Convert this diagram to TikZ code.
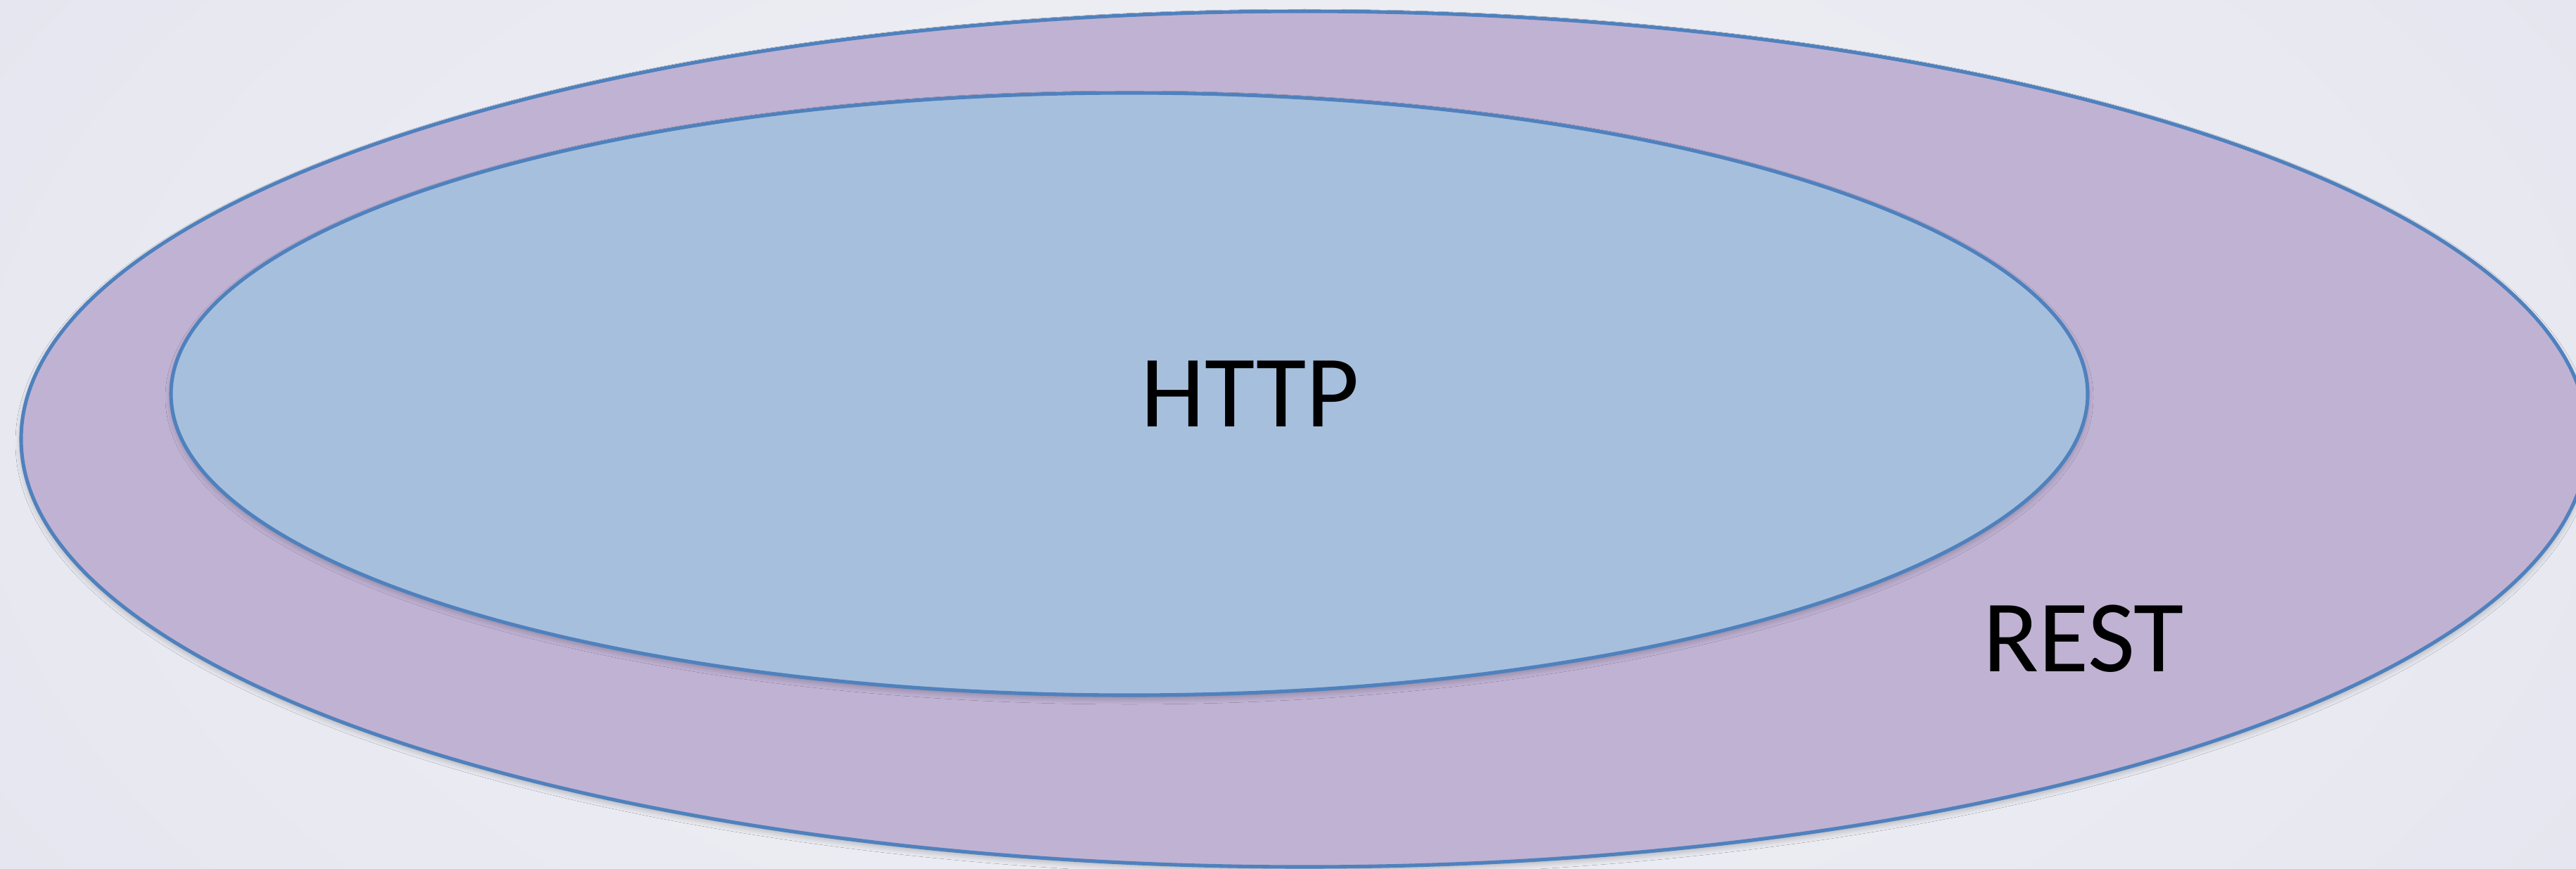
\documentclass[tikz,border=0pt]{standalone}
\usepackage{fontspec}
\setmainfont{Carlito}
\usetikzlibrary{shapes.geometric,shadows.blur}
\definecolor{bgedge}{HTML}{E3E4EE}
\definecolor{bgmid}{HTML}{F3F3F7}
\definecolor{ringline}{HTML}{4F81BD}
\definecolor{restfill}{HTML}{C0B2D3}
\definecolor{httpfill}{HTML}{A6BFDD}
\tikzset{
  layer/.style={ellipse, draw=ringline, line width=1.45pt, inner sep=0pt,
    blur shadow={shadow xshift=0pt, shadow yshift=-0.05cm, shadow opacity=25,
      shadow blur radius=0.08cm, shadow blur steps=6}},
  label/.style={font=\fontsize{41.5}{50}\selectfont, text=black, inner sep=0pt}
}
\begin{document}
\begin{tikzpicture}
  \useasboundingbox (0,0) rectangle (36.61,12.34);
  \clip (0,0) rectangle (36.61,12.34);
  % soft slide background
  \shade[inner color=bgmid, outer color=bgedge] (-6,-8) rectangle (42.61,20.34);
  % outer set and the set nested inside it
  \node[layer, fill=restfill, minimum width=36.48cm, minimum height=12.16cm]
    (rest) at (18.54,6.10) {};
  \node[layer, fill=httpfill, minimum width=27.24cm, minimum height=8.56cm]
    (http) at (16.05,6.74) {};
  \node[label] (httptext) at (17.77,6.74) {HTTP};
  \node[label] (resttext) at (29.61,3.26) {REST};
\end{tikzpicture}
\end{document}
